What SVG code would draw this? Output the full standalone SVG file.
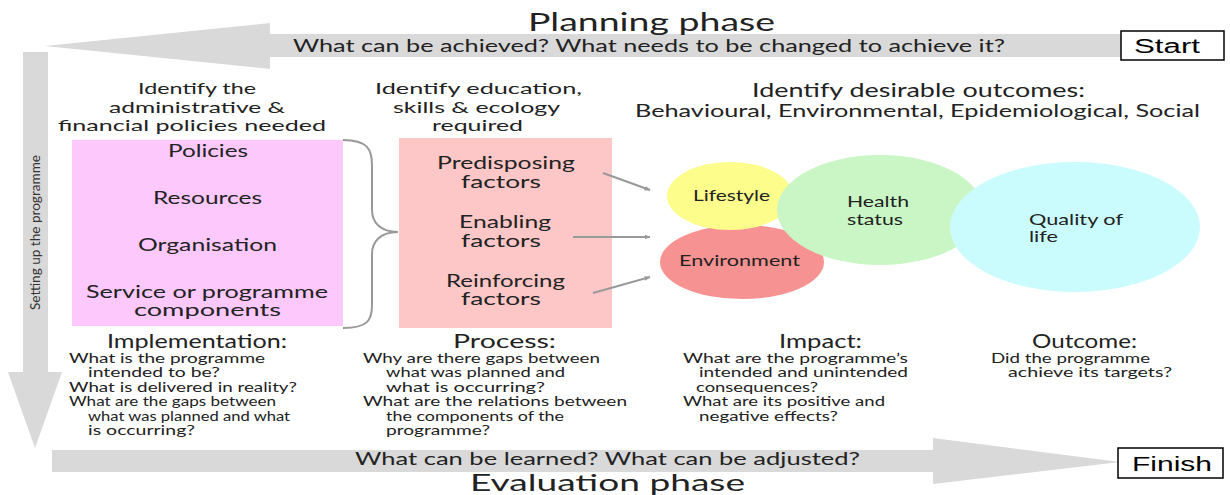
<svg xmlns="http://www.w3.org/2000/svg" width="1230" height="495" viewBox="0 0 1230 495">
<style>
text{font-family:Lato,"Open Sans","Liberation Sans",sans-serif;fill:#222}
.t{font-size:25px}
.s{font-size:17px}
.h{font-size:16px}
.b{font-size:16.5px}
.e{font-size:15px}
.sec{font-size:19px}
.q{font-size:12.5px}
.box{font-family:"Liberation Sans",Arial,sans-serif;font-size:20px;fill:#000}
.band{fill:#d9d9d9}
.conn{stroke:#999;stroke-width:2;fill:none}
</style>
<defs>
<marker id="ah" viewBox="0 0 10 10" refX="9" refY="5" markerWidth="6" markerHeight="6" orient="auto" markerUnits="userSpaceOnUse">
<path d="M0,1 L10,5 L0,9 z" fill="#999"/>
</marker>
</defs>
<rect width="1230" height="495" fill="#fff"/>

<g id="planning-arrow">
<polygon class="band" points="1121,34 270,34 270,23 45,46 270,69 270,57 1121,57"/>
<text class="t" x="528" y="31" textLength="247" lengthAdjust="spacingAndGlyphs">Planning phase</text>
<text class="s" x="293" y="52" textLength="712" lengthAdjust="spacingAndGlyphs">What can be achieved? What needs to be changed to achieve it?</text>
</g>

<g id="setup-arrow">
<polygon class="band" points="23,52 48,52 48,372 62,372 35,448 8,372 23,372"/>
<text transform="translate(40,310) rotate(-90)" x="0" y="0" font-size="13.5" textLength="155" lengthAdjust="spacingAndGlyphs" style="fill:#333">Setting up the programme</text>
</g>

<g id="evaluation-arrow">
<polygon class="band" points="52,450 933,450 933,438 1120,462 933,484 933,472 52,472"/>
<text x="355" y="465" font-size="16.5" textLength="505" lengthAdjust="spacingAndGlyphs">What can be learned?  What can be adjusted?</text>
<text x="470" y="490.5" font-size="23" textLength="275" lengthAdjust="spacingAndGlyphs">Evaluation phase</text>
</g>

<g id="start">
<rect x="1121" y="31" width="103" height="29" fill="#fff" stroke="#000" stroke-width="1.5"/>
<text class="box" x="1134" y="53" textLength="66" lengthAdjust="spacingAndGlyphs">Start</text>
</g>
<g id="finish">
<rect x="1118" y="448" width="105" height="30" fill="#fff" stroke="#000" stroke-width="1.5"/>
<text class="box" x="1132" y="471" textLength="80" lengthAdjust="spacingAndGlyphs">Finish</text>
</g>

<g id="header-admin">
<text class="h" x="138" y="94" textLength="118" lengthAdjust="spacingAndGlyphs">Identify the</text>
<text class="h" x="109" y="113" textLength="176" lengthAdjust="spacingAndGlyphs">administrative &amp;</text>
<text class="h" x="58" y="131" textLength="268" lengthAdjust="spacingAndGlyphs">financial policies needed</text>
</g>
<g id="header-education">
<text class="h" x="375" y="94" textLength="207" lengthAdjust="spacingAndGlyphs">Identify education,</text>
<text class="h" x="393" y="113" textLength="167" lengthAdjust="spacingAndGlyphs">skills &amp; ecology</text>
<text class="h" x="432" y="131" textLength="91" lengthAdjust="spacingAndGlyphs">required</text>
</g>
<g id="header-outcomes">
<text x="752" y="97" font-size="20" textLength="333" lengthAdjust="spacingAndGlyphs">Identify desirable outcomes:</text>
<text class="s" x="635" y="117" textLength="565" lengthAdjust="spacingAndGlyphs">Behavioural, Environmental, Epidemiological, Social</text>
</g>

<g id="admin-box">
<rect x="72" y="140" width="271" height="186" fill="#fdc9fd"/>
<text class="b" x="168" y="157" textLength="80" lengthAdjust="spacingAndGlyphs">Policies</text>
<text class="b" x="153" y="204" textLength="109" lengthAdjust="spacingAndGlyphs">Resources</text>
<text class="b" x="138" y="251" textLength="139" lengthAdjust="spacingAndGlyphs">Organisation</text>
<text class="b" x="86" y="298" textLength="242" lengthAdjust="spacingAndGlyphs">Service or programme</text>
<text class="b" x="134" y="316" textLength="147" lengthAdjust="spacingAndGlyphs">components</text>
</g>

<g id="brace">
<path class="conn" d="M343,140 C368,140 372,150 372,165 L372,210 C372,222 380,232 398,232 C380,232 372,242 372,254 L372,305 C372,320 368,328 343,328"/>
</g>

<g id="factors-box">
<rect x="399" y="138" width="213" height="190" fill="#fdc7c7"/>
<text class="b" x="437" y="169" textLength="138" lengthAdjust="spacingAndGlyphs">Predisposing</text>
<text class="b" x="461" y="188" textLength="80" lengthAdjust="spacingAndGlyphs">factors</text>
<text class="b" x="459" y="228" textLength="92" lengthAdjust="spacingAndGlyphs">Enabling</text>
<text class="b" x="461" y="247" textLength="80" lengthAdjust="spacingAndGlyphs">factors</text>
<text class="b" x="446" y="287" textLength="119" lengthAdjust="spacingAndGlyphs">Reinforcing</text>
<text class="b" x="461" y="305" textLength="80" lengthAdjust="spacingAndGlyphs">factors</text>
</g>

<g id="connectors">
<line class="conn" x1="603" y1="173" x2="650" y2="190" marker-end="url(#ah)"/>
<line class="conn" x1="573" y1="237" x2="650" y2="237" marker-end="url(#ah)"/>
<line class="conn" x1="593" y1="293" x2="650" y2="277" marker-end="url(#ah)"/>
</g>

<g id="environment">
<ellipse cx="742" cy="262" rx="82" ry="37" fill="#f79292"/>
<text class="e" x="679" y="266" textLength="121" lengthAdjust="spacingAndGlyphs">Environment</text>
</g>
<g id="lifestyle">
<ellipse cx="730" cy="196" rx="63" ry="34" fill="#fdfd8c"/>
<text class="e" x="693" y="201" textLength="77" lengthAdjust="spacingAndGlyphs">Lifestyle</text>
</g>
<g id="health-status">
<ellipse cx="880" cy="210" rx="103" ry="55" fill="#caf6c6"/>
<text class="e" x="847" y="207" textLength="62" lengthAdjust="spacingAndGlyphs">Health</text>
<text class="e" x="847" y="225" textLength="56" lengthAdjust="spacingAndGlyphs">status</text>
</g>
<g id="quality-of-life">
<ellipse cx="1075" cy="227" rx="125" ry="65" fill="#cbfcfd"/>
<text class="e" x="1029" y="225" textLength="94" lengthAdjust="spacingAndGlyphs">Quality of</text>
<text class="e" x="1029" y="242" textLength="29" lengthAdjust="spacingAndGlyphs">life</text>
</g>

<g id="implementation">
<text class="sec" x="107" y="348" textLength="180" lengthAdjust="spacingAndGlyphs">Implementation:</text>
<text class="q" x="69" y="363" textLength="196" lengthAdjust="spacingAndGlyphs">What is the programme</text>
<text class="q" x="88" y="377" textLength="132" lengthAdjust="spacingAndGlyphs">intended to be?</text>
<text class="q" x="69" y="392" textLength="228" lengthAdjust="spacingAndGlyphs">What is delivered in reality?</text>
<text class="q" x="69" y="406" textLength="207" lengthAdjust="spacingAndGlyphs">What are the gaps between</text>
<text class="q" x="88" y="421" textLength="202" lengthAdjust="spacingAndGlyphs">what was planned and what</text>
<text class="q" x="88" y="435" textLength="107" lengthAdjust="spacingAndGlyphs">is occurring?</text>
</g>

<g id="process">
<text class="sec" x="453" y="348" textLength="103" lengthAdjust="spacingAndGlyphs">Process:</text>
<text class="q" x="363" y="363" textLength="237" lengthAdjust="spacingAndGlyphs">Why are there gaps between</text>
<text class="q" x="386" y="377" textLength="179" lengthAdjust="spacingAndGlyphs">what was planned and</text>
<text class="q" x="386" y="392" textLength="159" lengthAdjust="spacingAndGlyphs">what is occurring?</text>
<text class="q" x="363" y="406" textLength="264" lengthAdjust="spacingAndGlyphs">What are the relations between</text>
<text class="q" x="386" y="421" textLength="178" lengthAdjust="spacingAndGlyphs">the components of the</text>
<text class="q" x="386" y="435" textLength="104" lengthAdjust="spacingAndGlyphs">programme?</text>
</g>

<g id="impact">
<text class="sec" x="779" y="348" textLength="83" lengthAdjust="spacingAndGlyphs">Impact:</text>
<text class="q" x="683" y="363" textLength="225" lengthAdjust="spacingAndGlyphs">What are the programme’s</text>
<text class="q" x="699" y="377" textLength="209" lengthAdjust="spacingAndGlyphs">intended and unintended</text>
<text class="q" x="696" y="392" textLength="122" lengthAdjust="spacingAndGlyphs">consequences?</text>
<text class="q" x="683" y="406" textLength="202" lengthAdjust="spacingAndGlyphs">What are its positive and</text>
<text class="q" x="699" y="421" textLength="139" lengthAdjust="spacingAndGlyphs">negative effects?</text>
</g>

<g id="outcome">
<text class="sec" x="1032" y="348" textLength="105" lengthAdjust="spacingAndGlyphs">Outcome:</text>
<text class="q" x="991" y="363" textLength="159" lengthAdjust="spacingAndGlyphs">Did the programme</text>
<text class="q" x="1008" y="377" textLength="164" lengthAdjust="spacingAndGlyphs">achieve its targets?</text>
</g>
</svg>
